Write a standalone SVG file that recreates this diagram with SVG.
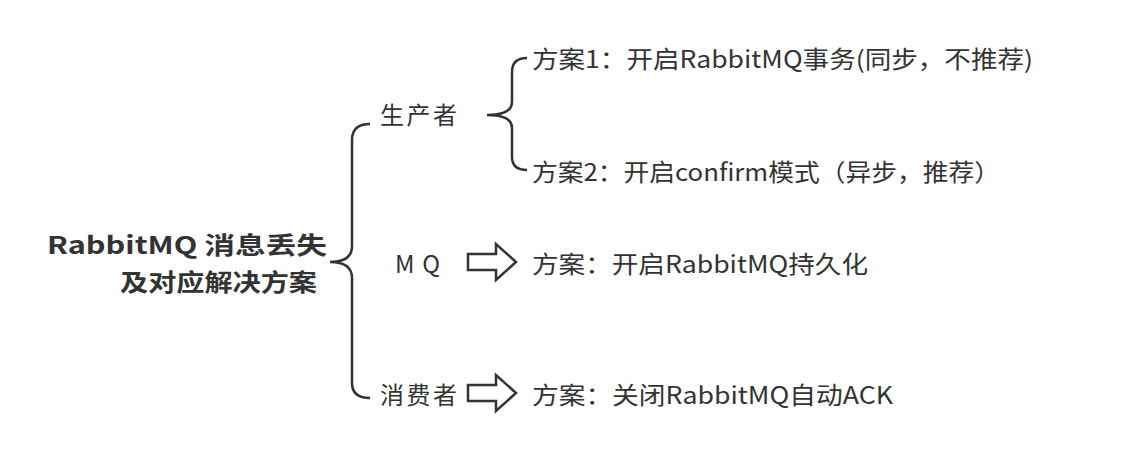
<svg xmlns="http://www.w3.org/2000/svg" width="1138" height="470" viewBox="0 0 1138 470">
<style>
text{font-family:"Noto Sans CJK SC","Noto Sans",sans-serif;fill:#333;font-size:24px;dominant-baseline:central}
.root{font-weight:bold;font-size:24px;text-anchor:end}
.br{fill:none;stroke:#333;stroke-width:2.5}
.ar{fill:#fff;stroke:#333;stroke-width:2.5;stroke-linejoin:miter}
</style>
<rect width="1138" height="470" fill="#fff"/>
<g id="root"><text class="root" x="327" y="243" textLength="280" lengthAdjust="spacingAndGlyphs">RabbitMQ 消息丢失</text><text class="root" x="317" y="280" textLength="197" lengthAdjust="spacingAndGlyphs">及对应解决方案</text></g>
<g id="connectors">
<path class="br" d="M370,124 Q352,124 352,140 L352,246 Q352,262 330,262 Q352,262 352,278 L352,383 Q352,398 370,398"/>
<path class="br" d="M527,58 Q512,58 512,72 L512,102 Q512,115 487,115 Q512,115 512,128 L512,157 Q512,170 527,170"/>
<path class="ar" d="M468,254 L496,254 L496,244 L516,262 L496,280 L496,270 L468,270 Z"/>
<path class="ar" d="M468,385 L496,385 L496,375 L516,393 L496,411 L496,401 L468,401 Z"/>
</g>
<g id="producer"><text x="380" y="113" textLength="77">生产者</text></g>
<g id="p1"><text x="532" y="57" textLength="501" lengthAdjust="spacingAndGlyphs">方案1：开启RabbitMQ事务(同步，不推荐)</text></g>
<g id="p2"><text x="532" y="170" textLength="468" lengthAdjust="spacingAndGlyphs">方案2：开启confirm模式（异步，推荐）</text></g>
<g id="mq"><text x="395" y="262" textLength="45">MQ</text></g>
<g id="m1"><text x="532" y="262" textLength="336" lengthAdjust="spacingAndGlyphs">方案：开启RabbitMQ持久化</text></g>
<g id="consumer"><text x="380" y="393" textLength="77">消费者</text></g>
<g id="c1"><text x="532" y="393" textLength="361" lengthAdjust="spacingAndGlyphs">方案：关闭RabbitMQ自动ACK</text></g>
</svg>
